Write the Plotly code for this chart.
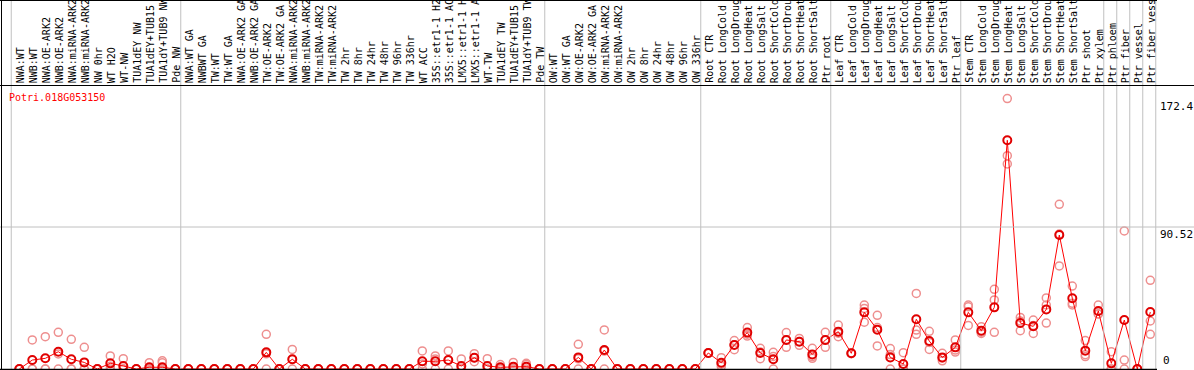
import plotly.graph_objects as go

labels = [
    "NWA:WT", "NWB:WT", "NWA:OE-ARK2", "NWB:OE-ARK2", "NWA:miRNA-ARK2", "NWB:miRNA-ARK2",
    "NW 0hr", "WT H2O", "WT-NW", "TUA1dEY NW", "TUA1dEY+TUB15", "TUA1dY+TUB9 NW", "Pde NW",
    "NWA:WT GA", "NWBWT GA", "TW:WT", "TW:WT GA", "NWA:OE-ARK2 GA", "NWB:OE-ARK2 GA",
    "TW:OE-ARK2", "TW:OE-ARK2 GA", "NWA:miRNA-ARK2", "NWB:miRNA-ARK2", "TW:miRNA-ARK2",
    "TW:miRNA-ARK2", "TW 2hr", "TW 8hr", "TW 24hr", "TW 48hr", "TW 96hr", "TW 336hr",
    "WT ACC", "35S::etr1-1 H2", "35S::etr1-1 AC", "LMX5::etr1-1 H", "LMX5::etr1-1 A",
    "WT-TW", "TUA1dEY TW", "TUA1dEY+TUB15", "TUA1dY+TUB9 TW", "Pde TW",
    "OW:WT", "OW:WT GA", "OW:OE-ARK2", "OW:OE-ARK2 GA", "OW:miRNA-ARK2", "OW:miRNA-ARK2",
    "OW 2hr", "OW 8hr", "OW 24hr", "OW 48hr", "OW 96hr", "OW 336hr",
    "Root CTR", "Root LongCold", "Root LongDroug", "Root LongHeat", "Root LongSalt",
    "Root ShortCold", "Root ShortDrou", "Root ShortHeat", "Root ShortSalt", "Ptr root",
    "Leaf CTR", "Leaf LongCold", "Leaf LongDroug", "Leaf LongHeat", "Leaf LongSalt",
    "Leaf ShortCold", "Leaf ShortDrou", "Leaf ShortHeat", "Leaf ShortSalt", "Ptr leaf",
    "Stem CTR", "Stem LongCold", "Stem LongDroug", "Stem LongHeat", "Stem LongSalt",
    "Stem ShortCold", "Stem ShortDrou", "Stem ShortHeat", "Stem ShortSalt", "Ptr shoot",
    "Ptr xylem", "Ptr phloem", "Ptr fiber", "Ptr vessel", "Ptr fiber vess",
]

mean_values = [
    0, 5.7, 6.8, 11.0, 6.2, 4.2, 0, 3.6, 1.9, 0, 1.1, 1.1, 0,
    0, 0, 0, 0, 0, 0, 10.6, 0, 6.2, 0, 0, 0, 0, 0, 0, 0, 0, 0,
    4.9, 4.9, 5.7, 1.9, 7.2, 1.9, 1.1, 1.5, 1.5, 0,
    0, 0, 7.4, 0, 12.1, 0, 0, 0, 0, 0, 0, 0,
    10.2, 4.0, 15.3, 23.2, 10.2, 6.2, 18.5, 17.4, 9.3, 18.5,
    23.8, 10.0, 36.1, 25.1, 7.4, 3.2, 31.7, 17.8, 7.4, 13.8,
    36.1, 24.4, 39.3, 145.8, 29.3, 27.2, 38.0, 85.4, 45.1, 11.7,
    37.0, 3.6, 31.2, 0, 36.3,
]

rep1 = [
    0, 18.5, 20.6, 23.4, 18.9, 13.8, 0, 8.3, 6.6, 0, 4.0, 5.2, 0,
    0, 0, 0, 0, 0, 0, 22.1, 0, 12.5, 0, 0, 0, 0, 0, 0, 0, 0, 0,
    11.5, 8.3, 11.5, 6.4, 9.8, 6.6, 2.8, 4.2, 3.6, 0,
    0, 0, 15.7, 0, 24.9, 0, 0, 0, 0, 0, 0, 0,
    10.2, 7.2, 18.1, 26.4, 13.2, 10.6, 23.2, 19.5, 13.2, 23.4,
    28.0, 10.2, 40.8, 34.2, 13.0, 10.4, 48.2, 24.0, 10.0, 18.5,
    40.8, 27.0, 50.8, 172.42, 32.9, 31.2, 45.3, 105.0, 52.9, 18.1,
    40.8, 11.0, 88.0, 0, 56.5,
]

rep2 = [
    0, 0, 0, 9.6, 0, 0, 0, 1.7, 0, 0, 0, 4.0, 0,
    0, 0, 0, 0, 0, 0, 9.7, 0, 6.1, 0, 0, 0, 0, 0, 0, 0, 0, 0,
    3.2, 6.4, 5.6, 0, 4.7, 0, 0.5, 0.3, 2.8, 0,
    0, 0, 6.5, 0, 11.4, 0, 0, 0, 0, 0, 0, 0,
    10.0, 3.1, 15.5, 22.2, 10.8, 8.0, 18.5, 17.6, 7.9, 18.3,
    22.8, 10.0, 38.6, 26.4, 9.2, 0, 24.8, 16.9, 7.0, 12.1,
    39.7, 23.5, 44.0, 136.0, 30.6, 27.7, 40.8, 86.0, 41.9, 9.1,
    35.1, 0, 5.7, 0, 30.6,
]

rep3 = [
    0, 0, 0, 0, 0, 0, 0, 0, 0, 0, 0, 0, 0,
    0, 0, 0, 0, 0, 0, 0, 0, 0, 0, 0, 0, 0, 0, 0, 0, 0, 0,
    0, 0, 0, 0, 7.1, 0, 0, 0, 0, 0,
    0, 0, 0, 0, 0, 0, 0, 0, 0, 0, 0, 0,
    10.4, 1.7, 12.3, 21.0, 6.6, 0, 13.8, 15.1, 6.8, 13.8,
    20.6, 9.8, 29.8, 14.7, 0, 0, 22.1, 12.5, 5.2, 10.8,
    27.8, 22.7, 23.4, 130.7, 24.4, 22.7, 29.3, 65.7, 40.8, 7.9,
    35.1, 0, 0, 0, 22.1,
]

gene_name = "Potri.018G053150"
separators = [-0.62, 12.42, 40.42, 52.42, 62.42, 72.42, 83.42, 84.42, 85.42, 86.42, 87.42]

W, H = 1194, 370
x = list(range(len(labels)))
vmax = max(max(rep1), max(rep2), max(rep3), max(mean_values))
ytop = vmax * 1.05
ymid = ytop / 2

def py(p):
    return (H - p) / H

def px(p):
    return p / W

FONT = "DejaVu Sans Mono"
fig = go.Figure()

rx, ry = [], []
for reps in (rep1, rep2, rep3):
    rx += x
    ry += reps
fig.add_trace(go.Scatter(
    x=rx, y=ry, mode="markers",
    marker=dict(symbol="circle-open", size=8, color="#ee8f8f", line=dict(width=1.5, color="#ee8f8f")),
    hoverinfo="skip", showlegend=False,
))
fig.add_trace(go.Scatter(
    x=x, y=mean_values, mode="lines+markers",
    line=dict(color="#ff0000", width=1),
    marker=dict(symbol="circle-open", size=8, color="#e00000", line=dict(width=2, color="#e00000")),
    showlegend=False,
))

x0 = -19.3 / 13.0
fig.update_xaxes(range=[x0, x0 + W / 13.0], domain=[0, 1], visible=False, showgrid=False, zeroline=False)
fig.update_yaxes(range=[0, ytop], domain=[py(369), py(85)], visible=False, showgrid=False, zeroline=False)

shapes = []
grey = "#c0c0c0"
for s in separators:
    shapes.append(dict(type="line", xref="x", yref="paper", x0=s, x1=s, y0=py(369), y1=1,
                       line=dict(color=grey, width=1)))
shapes.append(dict(type="line", xref="paper", yref="y", x0=0, x1=1, y0=ymid, y1=ymid,
                   line=dict(color=grey, width=1)))
shapes.append(dict(type="line", xref="paper", yref="paper", x0=px(1.5), x1=px(1.5), y0=0, y1=1,
                   line=dict(color="black", width=1)))
shapes.append(dict(type="line", xref="paper", yref="paper", x0=0, x1=px(1157), y0=py(0.5), y1=py(0.5),
                   line=dict(color="black", width=1)))
shapes.append(dict(type="line", xref="paper", yref="paper", x0=0, x1=1, y0=py(85.5), y1=py(85.5),
                   line=dict(color="black", width=1)))
shapes.append(dict(type="line", xref="paper", yref="paper", x0=0, x1=px(1157), y0=py(369.5), y1=py(369.5),
                   line=dict(color="black", width=1.5)))

annotations = []
for i, lab in enumerate(labels):
    annotations.append(dict(x=i, y=py(84), xref="x", yref="paper", text=lab, textangle=-90,
                            showarrow=False, xanchor="center", yanchor="bottom", xshift=1,
                            borderpad=0, font=dict(family=FONT, size=10, color="black")))
annotations.append(dict(x=px(8), y=py(97), xref="paper", yref="paper", text=gene_name,
                        showarrow=False, xanchor="left", yanchor="middle", borderpad=0,
                        font=dict(family=FONT, size=10, color="#ff0000")))
annotations.append(dict(x=px(1159), y=vmax, xref="paper", yref="y", text=f"{vmax:.1f}",
                        showarrow=False, xanchor="left", yanchor="top", borderpad=0,
                        font=dict(family=FONT, size=11, color="black")))
annotations.append(dict(x=px(1159), y=ymid, xref="paper", yref="y", text=f"{ymid:.2f}",
                        showarrow=False, xanchor="left", yanchor="top", borderpad=0,
                        font=dict(family=FONT, size=11, color="black")))
annotations.append(dict(x=px(1162), y=0, xref="paper", yref="y", text="0",
                        showarrow=False, xanchor="left", yanchor="bottom", yshift=1, borderpad=0,
                        font=dict(family=FONT, size=11, color="black")))

fig.update_layout(
    width=W, height=H, margin=dict(l=0, r=0, t=0, b=0),
    paper_bgcolor="white", plot_bgcolor="white",
    shapes=shapes, annotations=annotations,
)

fig.write_html(
    "out.html",
    config={"displayModeBar": False},
    post_script="document.body.style.margin='0';document.body.style.padding='0';document.body.style.overflow='hidden';",
)
